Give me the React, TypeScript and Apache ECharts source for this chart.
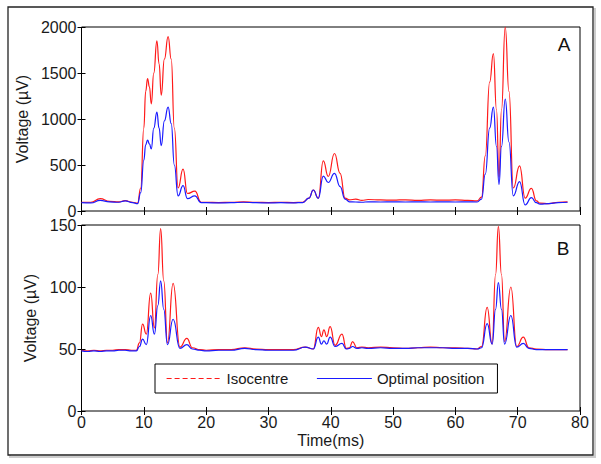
import React, { useEffect, useRef } from "react";
import * as echarts from "echarts";

// Panel A (top) — time in ms, voltage in µV
const TIME_A = [
  0, 1.5, 3, 4.5, 6, 7, 8.2, 9.0, 9.5, 10.0,
  10.3, 10.6, 10.9, 11.2, 11.6, 12.1, 12.45, 12.8, 13.3, 13.9,
  14.4, 14.9, 15.5, 16.3, 17.0, 18.2, 19.2, 20, 22, 24,
  26, 28, 30, 32, 34, 35.5, 36.5, 37.2, 38.0, 38.8,
  39.6, 40.6, 41.5, 42.3, 43, 44, 45, 46, 48, 50,
  52, 54, 56, 58, 60, 62, 63.5, 64.2, 64.8, 65.5,
  66.1, 66.6, 67.0, 67.4, 68.0, 68.6, 69.3, 70.3, 71.2, 72.2,
  73.0, 73.6, 75, 76.5, 78,
];
const ISO_A = [
  95, 95, 135, 105, 100, 112, 95, 85, 250, 900,
  1300, 1440, 1350, 1165, 1500, 1850, 1600, 1260, 1650, 1895,
  1650, 900, 250, 455, 190, 215, 95, 95, 92, 95,
  100, 95, 92, 95, 92, 95, 140, 228, 140, 545,
  375, 625, 410, 140, 120, 130, 115, 125, 120, 118,
  122, 115, 120, 118, 120, 115, 110, 150, 600, 1400,
  1710, 1100, 370, 1100, 2000, 1300, 250, 490, 140, 245,
  110, 85, 80, 95, 100,
];
const OPT_A = [
  90, 88, 115, 100, 95, 110, 92, 80, 200, 550,
  720, 770, 730, 675, 900, 1075, 900, 710, 980, 1130,
  950, 500, 165, 275, 135, 165, 90, 90, 88, 90,
  95, 90, 88, 90, 88, 92, 140, 228, 138, 380,
  310, 410, 265, 130, 100, 98, 95, 100, 98, 100,
  98, 100, 98, 100, 98, 100, 98, 130, 400, 900,
  1130, 700, 290, 700, 1215, 750, 165, 320, 65, 145,
  90, 75, 80, 90, 95,
];

// Panel B (bottom)
const TIME_B = [
  0, 1, 2, 3, 4, 5, 6, 7, 8, 8.8,
  9.3, 9.8, 10.4, 11.1, 11.7, 12.25, 12.7, 13.2, 13.8, 14.7,
  15.8, 16.9, 17.8, 19, 20, 22, 24, 26.2, 28, 30,
  32, 34, 35.9, 37.2, 38.0, 38.5, 38.9, 39.35, 39.9, 40.7,
  41.8, 42.5, 43.0, 43.5, 44.2, 45, 46, 48, 50, 52,
  54, 56, 58, 60, 62, 63.5, 64.2, 65.1, 65.9, 66.45,
  66.9, 67.4, 67.9, 68.9, 69.85, 70.9, 71.8, 73, 75, 76.5,
  78,
];
const ISO_B = [
  49, 48.5, 49, 48.5, 49, 49, 49.5, 49.5, 49, 49,
  55, 70, 62, 95, 67, 110, 147, 105, 55, 103,
  51.5, 58.5, 51, 49.5, 49, 49.5, 49.5, 51, 50, 49.5,
  49.5, 49.5, 51.5, 50, 67.5, 60, 65.5, 60, 68, 53,
  62, 50.5, 51, 56, 51, 51.5, 51, 51.5, 51, 50.5,
  51, 51.5, 51, 51, 50.5, 50, 52, 83.5, 54, 110,
  149, 110, 56, 100, 52, 59.5, 51, 50, 49.5, 49.5,
  49.5,
];
const OPT_B = [
  48.5, 48, 48.5, 48, 48.5, 48.5, 49, 49, 48.5, 48.5,
  52, 58, 53.5, 77, 62, 85, 105, 82, 53.5, 74,
  50.5, 53.5, 50, 49, 48.5, 49, 49, 50.5, 49.5, 49,
  49, 49, 51.5, 50, 59.5, 54, 56.5, 54, 59.5, 52,
  54.5, 50, 50.5, 52, 50.5, 51, 50.5, 51, 50.5, 50.5,
  51, 51, 51, 50.5, 50.5, 50, 51, 70.5, 54, 82,
  103.5, 82, 54, 77, 51.5, 54.5, 50.5, 49.5, 49.5, 49.5,
  49.5,
];

const X_RANGE = [0, 80, 10];
const Y_RANGE_A = [0, 2000, 500];
const Y_RANGE_B = [0, 150, 50];
const SERIES_NAMES = ["Isocentre", "Optimal position"];
const PANEL_LABELS = ["A", "B"];

const FONT = "'Liberation Sans', Arial, Helvetica, sans-serif";
const TXT = "#1a1a1a";
const RED = "#ff1a1a";
const BLUE = "#1a1aff";

const zip = (t: number[], v: number[]) => t.map((x, i) => [x, v[i]]);

export default function App() {
  const ref = useRef<HTMLDivElement>(null);

  useEffect(() => {
    if (!ref.current) return;
    const chart = echarts.init(ref.current, undefined, { renderer: "svg" });

    const tick = { inside: true, length: 4, lineStyle: { color: "#000", width: 1 } };
    const plain = (v: number) => String(v);
    const xBase = (grid: number, pos: string, labels: boolean, extra: any = {}) => ({
      gridIndex: grid,
      type: "value",
      position: pos,
      min: X_RANGE[0],
      max: X_RANGE[1],
      interval: X_RANGE[2],
      axisLine: { show: false },
      axisTick: tick,
      splitLine: { show: false },
      axisLabel: labels
        ? { show: true, fontSize: 16, color: TXT, fontFamily: FONT, margin: 3, formatter: plain }
        : { show: false },
      ...extra,
    });
    const yBase = (grid: number, pos: string, r: number[], labels: boolean, extra: any = {}) => ({
      gridIndex: grid,
      type: "value",
      position: pos,
      min: r[0],
      max: r[1],
      interval: r[2],
      axisLine: { show: false },
      axisTick: tick,
      splitLine: { show: false },
      axisLabel: labels
        ? {
            show: true,
            fontSize: 16,
            lineHeight: 12,
            color: TXT,
            fontFamily: FONT,
            margin: 5,
            formatter: plain,
          }
        : { show: false },
      ...extra,
    });
    const yName = (gap: number) => ({
      name: "Voltage (µV)",
      nameLocation: "middle",
      nameGap: gap,
      nameTextStyle: { fontSize: 16, color: TXT, fontFamily: FONT },
    });

    const line = (name: string, color: string, xi: number, yi: number, data: number[][], z: number) => ({
      name,
      type: "line",
      xAxisIndex: xi,
      yAxisIndex: yi,
      data,
      symbol: "none",
      smooth: 0.5,
      smoothMonotone: "x",
      lineStyle: { color, width: 1.2 },
      itemStyle: { color },
      z,
    });

    const hiddenSymbol = { color: "rgba(0,0,0,0)", opacity: 0, borderWidth: 0 };

    chart.setOption({
      animation: false,
      backgroundColor: "#fff",
      textStyle: { fontFamily: FONT },
      grid: [
        { left: 81.5, right: 21, top: 27, height: 184, show: true, borderColor: "#000", borderWidth: 1 },
        { left: 81.5, right: 21, top: 225, height: 186, show: true, borderColor: "#000", borderWidth: 1 },
      ],
      xAxis: [
        xBase(0, "bottom", false),
        xBase(0, "top", false),
        xBase(1, "bottom", true, {
          name: "Time(ms)",
          nameLocation: "middle",
          nameGap: 21,
          nameTextStyle: { fontSize: 16, color: TXT, fontFamily: FONT },
        }),
        xBase(1, "top", false),
      ],
      yAxis: [
        yBase(0, "left", Y_RANGE_A, true, yName(48)),
        yBase(0, "right", Y_RANGE_A, false),
        yBase(1, "left", Y_RANGE_B, true, yName(39)),
        yBase(1, "right", Y_RANGE_B, false),
      ],
      legend: {
        left: 155,
        top: 364,
        orient: "horizontal",
        padding: [7, 13, 7, 11],
        itemGap: 28,
        itemWidth: 55,
        itemHeight: 14,
        borderColor: "#000",
        borderWidth: 1,
        backgroundColor: "#fff",
        textStyle: { fontSize: 15, color: TXT, fontFamily: FONT },
        itemStyle: hiddenSymbol,
        data: [
          {
            name: SERIES_NAMES[0],
            itemStyle: hiddenSymbol,
            lineStyle: { type: [5, 3], color: RED, width: 1.2 },
          },
          {
            name: SERIES_NAMES[1],
            itemStyle: hiddenSymbol,
            lineStyle: { color: BLUE, width: 1.2 },
          },
        ],
      },
      graphic: [
        {
          type: "rect",
          z: -10,
          silent: true,
          shape: { x: 10, y: 9, width: 585, height: 448 },
          style: { fill: "none", stroke: "#ccc", lineWidth: 2 },
        },
        {
          type: "rect",
          z: -5,
          silent: true,
          shape: { x: 8, y: 7, width: 585, height: 448 },
          style: { fill: "#fff", stroke: "#222", lineWidth: 1.3 },
        },
        {
          type: "text",
          x: 564,
          y: 44,
          style: {
            text: PANEL_LABELS[0],
            fontSize: 19,
            fontFamily: FONT,
            fill: "#111",
            align: "center",
            verticalAlign: "middle",
          },
        },
        {
          type: "text",
          x: 563,
          y: 248,
          style: {
            text: PANEL_LABELS[1],
            fontSize: 19,
            fontFamily: FONT,
            fill: "#111",
            align: "center",
            verticalAlign: "middle",
          },
        },
      ],
      series: [
        line(SERIES_NAMES[0], RED, 0, 0, zip(TIME_A, ISO_A), 2),
        line(SERIES_NAMES[1], BLUE, 0, 0, zip(TIME_A, OPT_A), 3),
        line(SERIES_NAMES[0], RED, 2, 2, zip(TIME_B, ISO_B), 2),
        line(SERIES_NAMES[1], BLUE, 2, 2, zip(TIME_B, OPT_B), 3),
      ],
    });

    return () => chart.dispose();
  }, []);

  return (
    <div
      ref={ref}
      style={{ position: "fixed", left: 0, top: 0, width: 601, height: 464, background: "#fff" }}
    />
  );
}
